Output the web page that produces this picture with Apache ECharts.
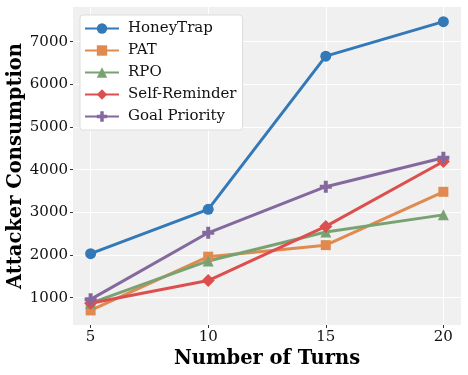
<!DOCTYPE html>
<html>
<head>
<meta charset="utf-8">
<script src="https://cdn.jsdelivr.net/npm/echarts@6/dist/echarts.min.js"></script>
<style>
  html, body { margin: 0; padding: 0; background: #fff; }
  #chart { width: 468px; height: 375px; }
</style>
</head>
<body>
<div id="chart"></div>
<script>
const turns = [5, 10, 15, 20];
const honeyTrap = [2030, 3070, 6660, 7470];
const pat = [700, 1960, 2230, 3480];
const rpo = [870, 1860, 2540, 2940];
const selfReminder = [870, 1400, 2670, 4190];
const goalPriority = [960, 2520, 3600, 4280];
const yTicks = [1000, 2000, 3000, 4000, 5000, 6000, 7000];

const font = 'DejaVu Serif';
const plusPath = 'path://M-1,-3H1V-1H3V1H1V3H-1V1H-3V-1H-1Z';

const chart = echarts.init(document.getElementById('chart'));

const makeSeries = (name, values, color, symbol, size) => ({
  name: name,
  type: 'line',
  data: turns.map((t, i) => [t, values[i]]),
  symbol: symbol,
  symbolSize: size,
  showAllSymbol: true,
  lineStyle: {color: color, width: 3},
  itemStyle: {color: color},
  emphasis: {disabled: true},
  animation: false
});

const option = {
  backgroundColor: '#ffffff',
  grid: {
    left: 73, right: 7, top: 7, bottom: 50,
    outerBoundsMode: 'none',
    containLabel: false,
    show: true,
    backgroundColor: '#f0f0f0',
    borderWidth: 0
  },
  legend: {
    orient: 'vertical',
    left: 80, top: 15,
    padding: [5, 6, 5, 4],
    backgroundColor: '#ffffff',
    borderColor: '#dddddd',
    borderWidth: 1,
    borderRadius: 3,
    itemWidth: 34,
    itemHeight: 13,
    itemGap: 5,
    textStyle: {fontFamily: font, fontSize: 15, color: '#111', padding: [0, 0, 0, 4], lineHeight: 17},
    data: ['HoneyTrap', 'PAT', 'RPO', 'Self-Reminder', 'Goal Priority']
  },
  xAxis: {
    type: 'value',
    min: 4.25,
    max: 20.75,
    name: 'Number of Turns',
    nameLocation: 'middle',
    nameGap: 24,
    nameMoveOverlap: false,
    nameTextStyle: {fontFamily: font, fontSize: 19.5, fontWeight: 'bold', color: '#000'},
    axisLine: {show: false},
    axisTick: {show: true, customValues: turns, length: 3, lineStyle: {color: '#333'}},
    axisLabel: {customValues: turns, fontFamily: font, fontSize: 15, color: '#111', margin: 5},
    splitLine: {show: true, lineStyle: {color: '#ffffff', width: 1}}
  },
  yAxis: {
    type: 'value',
    min: 358,
    max: 7813,
    name: 'Attacker Consumption',
    nameLocation: 'middle',
    nameGap: 47,
    nameMoveOverlap: false,
    nameTextStyle: {fontFamily: font, fontSize: 19.5, fontWeight: 'bold', color: '#000'},
    axisLine: {show: false},
    axisTick: {show: true, customValues: yTicks, length: 3, lineStyle: {color: '#333'}},
    axisLabel: {customValues: yTicks, formatter: v => String(v), fontFamily: font, fontSize: 15, color: '#111', margin: 5},
    splitLine: {show: true, lineStyle: {color: '#ffffff', width: 1}}
  },
  series: [
    makeSeries('HoneyTrap', honeyTrap, '#3479b7', 'circle', 11),
    makeSeries('PAT', pat, '#e08a50', 'rect', 10),
    makeSeries('RPO', rpo, '#79a272', 'triangle', 11),
    makeSeries('Self-Reminder', selfReminder, '#dd4f4f', 'diamond', 13),
    makeSeries('Goal Priority', goalPriority, '#84699f', plusPath, 12)
  ]
};

chart.setOption(option);
</script>
</body>
</html>
